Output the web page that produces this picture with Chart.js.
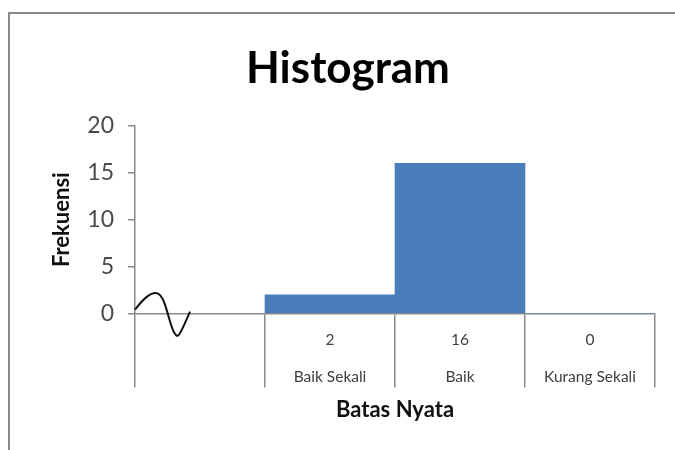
<!DOCTYPE html>
<html>
<head>
<meta charset="utf-8">
<script src="https://cdn.jsdelivr.net/npm/chart.js@4"></script>
<style>
    html, body { margin: 0; padding: 0; background: #fff; }
    #wrap { position: relative; width: 675px; height: 450px; }
    #frame {
        position: absolute; left: 8px; top: 12px; right: 0; bottom: 0;
        border-top: 2px solid #8a8a8a; border-left: 2px solid #8a8a8a;
    }
    canvas { position: absolute; left: 0; top: 0; }
</style>
</head>
<body>
<div id="wrap">
    <div id="frame"></div>
    <canvas id="grafico" width="675" height="450"></canvas>
</div>
<script>
// dados do histograma
var kategori = ["", "Baik Sekali", "Baik", "Kurang Sekali"];
var frekuensi = [null, 2, 16, 0];
var ticksY = [0, 5, 10, 15, 20];

var fonte = "Lato, 'Open Sans', sans-serif";

// tabela de valores + rótulos embaixo do eixo x, e o rabisco no começo
var tabelaPlugin = {
    id: "tabela",
    afterDraw: function (chart) {
        var ctx = chart.ctx;
        var x = chart.scales.x;
        var y = chart.scales.y;
        var base = y.getPixelForValue(0);
        ctx.save();
        ctx.fillStyle = "#404040";
        ctx.font = "15.5px " + fonte;
        ctx.textAlign = "center";
        ctx.textBaseline = "middle";
        kategori.forEach(function (k, i) {
            if (frekuensi[i] === null) return;
            var px = x.getPixelForValue(i);
            ctx.fillText(String(frekuensi[i]), px, base + 26);
            ctx.fillText(k, px, base + 63);
        });

        // rabisco (decoração)
        var x0 = x.left;
        var pts = [[0,-4],[8,-14],[16,-20],[23,-21],[28,-15],[32,-3],[36,12],[40,21],[43,23],[47,16],[52,5],[55,-2]];
        ctx.strokeStyle = "#111";
        ctx.lineWidth = 2;
        ctx.beginPath();
        ctx.moveTo(x0 + pts[0][0], base + pts[0][1]);
        for (var i = 1; i < pts.length - 1; i++) {
            var mx = (pts[i][0] + pts[i + 1][0]) / 2;
            var my = (pts[i][1] + pts[i + 1][1]) / 2;
            ctx.quadraticCurveTo(x0 + pts[i][0], base + pts[i][1], x0 + mx, base + my);
        }
        var last = pts[pts.length - 1];
        ctx.lineTo(x0 + last[0], base + last[1]);
        ctx.stroke();
        ctx.restore();
    }
};

new Chart(document.getElementById("grafico"), {
    type: "bar",
    data: {
        labels: kategori,
        datasets: [{
            data: frekuensi,
            backgroundColor: "#4A7EBB",
            borderWidth: 0,
            categoryPercentage: 1,
            barPercentage: 1
        }]
    },
    options: {
        responsive: false,
        animation: false,
        layout: { padding: { left: 41, right: 20, top: 0, bottom: 0 } },
        plugins: {
            legend: { display: false },
            tooltip: { enabled: false },
            title: {
                display: true,
                text: "Histogram",
                color: "#000",
                font: { family: fonte, size: 44, weight: "bold" },
                padding: { top: 42, bottom: 31 }
            }
        },
        scales: {
            x: {
                grid: {
                    display: true,
                    offset: true,
                    drawOnChartArea: false,
                    drawTicks: true,
                    tickLength: 74,
                    color: "#8a8a8a",
                    lineWidth: 1.5
                },
                border: { color: "#8a8a8a", width: 1.5 },
                ticks: { display: false },
                title: {
                    display: true,
                    text: "Batas Nyata",
                    color: "#111",
                    font: { family: fonte, size: 22, weight: "bold" },
                    padding: { top: 9, bottom: 27 }
                }
            },
            y: {
                min: 0,
                max: 20,
                afterBuildTicks: function (s) {
                    s.ticks = ticksY.map(function (v) { return { value: v }; });
                },
                afterFit: function (s) { s.width = 94; },
                grid: {
                    drawOnChartArea: false,
                    tickLength: 7,
                    color: "#8a8a8a",
                    lineWidth: 1.5
                },
                border: { color: "#8a8a8a", width: 1.5 },
                ticks: {
                    color: "#4a4a4a",
                    padding: 14,
                    font: { family: fonte, size: 23 }
                },
                title: {
                    display: true,
                    text: "Frekuensi",
                    color: "#111",
                    font: { family: fonte, size: 22, weight: "bold" },
                    padding: { top: 8 }
                }
            }
        }
    },
    plugins: [tabelaPlugin]
});
</script>
</body>
</html>
